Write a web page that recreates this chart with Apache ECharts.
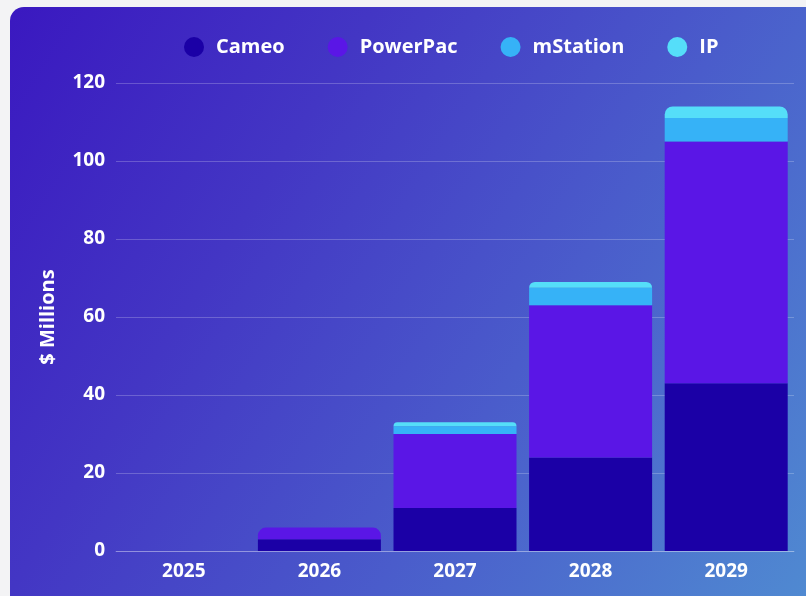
<!DOCTYPE html>
<html>
<head>
<meta charset="utf-8">
<script src="https://cdn.jsdelivr.net/npm/echarts@6/dist/echarts.min.js"></script>
<style>
html,body{margin:0;padding:0;width:806px;height:596px;overflow:hidden;background:#f3f3f5;}
#card{position:absolute;left:10px;top:7px;width:830px;height:620px;border-radius:14px;
background:linear-gradient(122deg,#3a18c0 0%,#4336c4 30%,#4a5ccb 60%,#508fd2 100%);}
#chart{position:absolute;left:0;top:0;width:806px;height:596px;}
</style>
</head>
<body>
<div id="card"></div>
<div id="chart"></div>
<script>
const categories = ['2025','2026','2027','2028','2029'];
const seriesNames = ['Cameo','PowerPac','mStation','IP'];
const cameo    = [0, 3, 11, 24, 43];
const powerPac = [0, 3, 19, 39, 62];
const mStation = [0, 0, 2, 4.5, 6];
const ip       = [0, 0, 1, 1.5, 3];
const colors = ['#1b00a6','#5a16e6','#36b2f7','#55def9'];
const yTicks = [0, 20, 40, 60, 80, 100, 120];

const allData = [cameo, powerPac, mStation, ip];
// topmost non-zero segment per category gets the rounded top
const topIdx = categories.map((c, i) => {
  let t = -1;
  allData.forEach((arr, s) => { if (arr[i] > 0) t = s; });
  return t;
});

const series = allData.map((arr, s) => ({
  name: seriesNames[s],
  type: 'bar',
  stack: 'total',
  barWidth: 123,
  itemStyle: { color: colors[s] },
  data: arr.map((v, i) => ({
    value: v,
    itemStyle: topIdx[i] === s ? { borderRadius: [8, 8, 0, 0] } : { borderRadius: 0 }
  }))
}));

const chart = echarts.init(document.getElementById('chart'), null, {renderer: 'canvas'});
chart.setOption({
  backgroundColor: 'transparent',
  textStyle: { fontFamily: 'Open Sans' },
  legend: {
    top: 37,
    left: 184,
    padding: 0,
    itemWidth: 20,
    itemHeight: 20,
    itemGap: 43,
    icon: 'circle',
    textStyle: { color: '#ffffff', fontSize: 20, lineHeight: 20, fontWeight: 'bold', fontFamily: 'Open Sans', padding: [0,0,0,7] },
    data: seriesNames
  },
  grid: { left: 116, right: 12, top: 83, bottom: 45, containLabel: false },
  xAxis: {
    type: 'category',
    data: categories,
    axisLine: { show: true, lineStyle: { color: 'rgba(255,255,255,0.25)' } },
    axisTick: { show: false },
    axisLabel: { color: '#ffffff', fontSize: 19, fontWeight: 'bold', margin: 11, fontFamily: 'Open Sans' }
  },
  yAxis: {
    type: 'value',
    min: 0, max: 120, interval: 20,
    name: '$ Millions',
    nameLocation: 'middle',
    nameRotate: 90,
    nameGap: 58,
    nameTextStyle: { color: '#ffffff', fontSize: 20, fontWeight: 'bold', fontFamily: 'Open Sans' },
    axisLine: { show: false },
    axisTick: { show: false },
    splitLine: { lineStyle: { color: 'rgba(255,255,255,0.22)', width: 1 } },
    axisLabel: { color: '#ffffff', fontSize: 19, fontWeight: 'bold', margin: 11, fontFamily: 'Open Sans',
      formatter: v => yTicks.includes(v) ? String(v) : '' }
  },
  series: series
});
</script>
</body>
</html>
